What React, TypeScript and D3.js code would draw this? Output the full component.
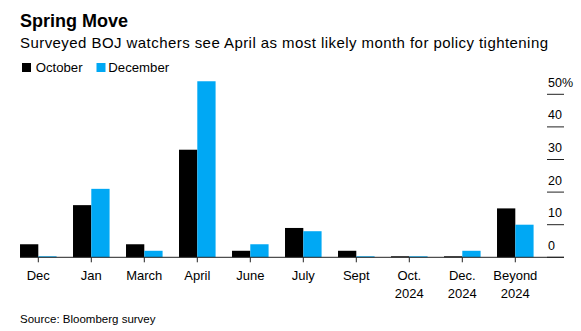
import React from "react";
import * as d3 from "d3";

const categories = ["Dec", "Jan", "March", "April", "June", "July", "Sept", "Oct.\n2024", "Dec.\n2024", "Beyond\n2024"];
const october = [4, 16, 4, 33, 2, 9, 2, 0, 0, 15];
const december = [0, 21, 2, 54, 4, 8, 0, 0, 2, 10];
const seriesNames = ["October", "December"];
const seriesColors = ["#000000", "#00a8f4"];
const yTicks = [0, 10, 20, 30, 40, 50];

const W = 581;
const H = 331;
const FONT = "'Liberation Sans', Arial, Helvetica, sans-serif";

export default function App() {
  const x = d3.scaleBand<string>().domain(categories).range([11.8, 541.8]).paddingInner(0.31).paddingOuter(0.155);
  const sub = d3.scaleBand<string>().domain(seriesNames).range([0, x.bandwidth()]).padding(0);
  const y = d3.scaleLinear().domain([0, 50]).range([257.3, 94.3]);
  const series = [october, december];

  return (
    <svg width={W} height={H} style={{ position: "absolute", left: 0, top: 0, background: "#fff" }} fontFamily={FONT}>
      <rect width={W} height={H} fill="#fff" />
      <text x={20} y={27} fontSize={18} fontWeight="bold" fill="#000">Spring Move</text>
      <text x={20} y={48} fontSize={15} textLength={528} lengthAdjust="spacing" fill="#000">Surveyed BOJ watchers see April as most likely month for policy tightening</text>
      {/* legend */}
      <rect x={22} y={63} width={9} height={9} fill={seriesColors[0]} />
      <text x={35.7} y={72} fontSize={13.2} fill="#000">{seriesNames[0]}</text>
      <rect x={96.5} y={63} width={9} height={9} fill={seriesColors[1]} />
      <text x={108.3} y={72} fontSize={13.2} fill="#000">{seriesNames[1]}</text>

      {/* y axis ticks on right */}
      {yTicks.map((t) => (
        <g key={t}>
          <line x1={547} x2={564} y1={y(t)} y2={y(t)} stroke="#222" strokeWidth={1} />
          <text x={548} y={y(t) - 7.5} fontSize={12.5} fill="#000">{t === 50 ? "50%" : String(t)}</text>
        </g>
      ))}

      {/* bars */}
      {series.map((vals, si) =>
        categories.map((c, ci) => {
          const v = vals[ci];
          const h = Math.max(1, y(0) - y(v));
          return (
            <rect
              key={`${si}-${ci}`}
              x={(x(c) ?? 0) + (sub(seriesNames[si]) ?? 0)}
              y={y(0) - h}
              width={sub.bandwidth()}
              height={h}
              fill={seriesColors[si]}
            />
          );
        })
      )}

      {/* baseline */}
      <line x1={20} x2={564} y1={y(0)} y2={y(0)} stroke="#222" strokeWidth={1} />
      {categories.map((c) => {
        const cx = (x(c) ?? 0) + x.bandwidth() / 2;
        const lines = c.split("\n");
        return (
          <g key={c}>
            <line x1={cx} x2={cx} y1={y(0)} y2={y(0) + 5} stroke="#222" strokeWidth={1} />
            {lines.map((l, i) => (
              <text key={i} x={cx} y={280 + i * 18} fontSize={13} textAnchor="middle" fill="#000">{l}</text>
            ))}
          </g>
        );
      })}

      <text x={20} y={323} fontSize={11.5} fill="#000" fontFamily="'Liberation Sans Narrow', 'Liberation Sans', Arial, sans-serif">Source: Bloomberg survey</text>
    </svg>
  );
}
